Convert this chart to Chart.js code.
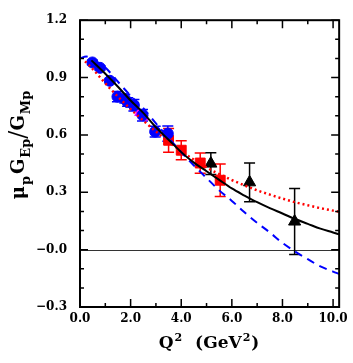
<!DOCTYPE html>
<html><head><meta charset="utf-8">
<script src="https://cdn.jsdelivr.net/npm/chart.js@4/dist/chart.umd.min.js"></script>
<style>html,body{margin:0;padding:0;background:#fff}#wrap{width:353px;height:363px;position:relative}</style>
</head><body><div id="wrap"><canvas id="c" width="353" height="363"></canvas></div>
<script>
// ---- tick labels ----
const xTickValues = [0, 2, 4, 6, 8, 10];
const xTickLabels = ["0.0", "2.0", "4.0", "6.0", "8.0", "10.0"];
const yTickValues = [-0.3, 0, 0.3, 0.6, 0.9, 1.2];
const yTickLabels = ["\u22120.3", "\u22120.0", "0.3", "0.6", "0.9", "1.2"];

// ---- data: blue circles ----
const blueQ2  = [0.49, 0.79, 1.18, 1.48, 1.77, 1.88, 2.13, 2.47, 2.97, 3.47];
const blueR   = [0.979, 0.951, 0.883, 0.800, 0.789, 0.772, 0.755, 0.703, 0.617, 0.607];
const blueErr = [0.012, 0.011, 0.012, 0.027, 0.022, 0.022, 0.030, 0.030, 0.028, 0.040];
// ---- magenta points ----
const magQ2 = [2.30, 2.55];
const magR  = [0.712, 0.688];
// ---- red squares ----
const redQ2  = [3.50, 4.00, 4.75, 5.54];
const redR   = [0.572, 0.520, 0.453, 0.363];
const redErr = [0.062, 0.050, 0.053, 0.085];
// ---- black triangles ----
const triQ2  = [5.17, 6.70, 8.48];
const triR   = [0.450, 0.352, 0.147];
const triErr = [0.057, 0.101, 0.173];

// ---- curves ----
const blackQ2 = [0.45, 1.0, 1.5, 2.0, 2.5, 3.0, 3.5, 4.0, 4.5, 5.0, 5.5, 6.0, 6.5, 7.0, 7.5, 8.0, 8.5, 9.0, 9.5, 10.0, 10.24];
const blackR  = [0.99, 0.92, 0.852, 0.78, 0.715, 0.64, 0.575, 0.51, 0.455, 0.41, 0.365, 0.32, 0.283, 0.248, 0.217, 0.189, 0.16, 0.135, 0.11, 0.09, 0.08];
const dashQ2  = [0, 0.25, 0.5, 1.0, 1.5, 2.0, 2.5, 3.0, 3.5, 4.0, 4.5, 5.0, 5.5, 6.0, 6.5, 7.0, 7.5, 8.0, 8.5, 9.0, 9.5, 10.0, 10.24];
const dashR   = [1.0, 1.01, 0.995, 0.952, 0.878, 0.805, 0.74, 0.66, 0.585, 0.51, 0.44, 0.375, 0.31, 0.255, 0.195, 0.14, 0.09, 0.035, -0.01, -0.05, -0.088, -0.115, -0.127];
const dotQ2   = [0.2, 0.5, 1.0, 1.5, 2.0, 2.5, 3.0, 3.5, 4.0, 4.5, 5.0, 5.5, 6.0, 6.5, 7.0, 7.5, 8.0, 8.5, 9.0, 9.5, 10.0, 10.24];
const dotR    = [0.985, 0.945, 0.87, 0.8, 0.735, 0.675, 0.618, 0.565, 0.515, 0.47, 0.43, 0.395, 0.364, 0.336, 0.31, 0.288, 0.267, 0.248, 0.232, 0.217, 0.204, 0.198];

const BLUE = '#0000ff', RED = '#ff0000', MAG = '#ff00ff', BLK = '#000000';
const FONT = '"DejaVu Serif", "Liberation Serif", serif';

function pts(xs, ys) { return xs.map((x, i) => ({ x: x, y: ys[i] })); }

const errorSets = [
  { q: blueQ2, r: blueR, e: blueErr, color: BLUE },
  { q: redQ2, r: redR, e: redErr, color: RED },
  { q: triQ2, r: triR, e: triErr, color: BLK }
];

const framePlugin = {
  id: 'frame',
  beforeDatasetsDraw(chart) {
    const { ctx, chartArea: a, scales: { x, y } } = chart;
    ctx.save();
    ctx.strokeStyle = '#333';
    ctx.lineWidth = 1;
    const y0 = Math.round(y.getPixelForValue(0)) + 0.5;
    ctx.beginPath(); ctx.moveTo(a.left, y0); ctx.lineTo(a.right, y0); ctx.stroke();
    ctx.lineWidth = 1.5;
    errorSets.forEach(s => {
      ctx.strokeStyle = s.color;
      s.q.forEach((q, i) => {
        const px = x.getPixelForValue(q);
        const pt = y.getPixelForValue(s.r[i] + s.e[i]);
        const pb = y.getPixelForValue(s.r[i] - s.e[i]);
        ctx.beginPath();
        ctx.moveTo(px, pt); ctx.lineTo(px, pb);
        ctx.moveTo(px - 5.5, pt); ctx.lineTo(px + 5.5, pt);
        ctx.moveTo(px - 5.5, pb); ctx.lineTo(px + 5.5, pb);
        ctx.stroke();
      });
    });
    ctx.restore();
  },
  afterDraw(chart) {
    const { ctx, chartArea: a, scales: { x, y } } = chart;
    ctx.save();
    ctx.strokeStyle = '#000';
    ctx.lineWidth = 2;
    ctx.strokeRect(a.left, a.top, a.right - a.left, a.bottom - a.top);
    ctx.lineWidth = 1.5;
    ctx.beginPath();
    for (let i = 0; i <= 10; i++) {
      const px = x.getPixelForValue(i);
      const len = (i % 2 === 0) ? 8 : 4;
      ctx.moveTo(px, a.bottom); ctx.lineTo(px, a.bottom - len);
      ctx.moveTo(px, a.top); ctx.lineTo(px, a.top + len);
    }
    for (let i = -3; i <= 12; i++) {
      const py = y.getPixelForValue(i / 10);
      const len = ((i + 3) % 3 === 0) ? 8 : 4;
      ctx.moveTo(a.left, py); ctx.lineTo(a.left + len, py);
      ctx.moveTo(a.right, py); ctx.lineTo(a.right - len, py);
    }
    ctx.stroke();

    ctx.fillStyle = '#000';
    ctx.textBaseline = 'alphabetic';
    const big = 'bold 17px ' + FONT, small = 'bold 11px ' + FONT;
    const xp = [
      { t: 'Q', f: big, dy: 0 }, { t: '2', f: small, dy: -7 }, { t: '  (GeV', f: big, dy: 0 },
      { t: '2', f: small, dy: -7 }, { t: ')', f: big, dy: 0 }
    ];
    let w = 0;
    xp.forEach(p => { ctx.font = p.f; p.w = ctx.measureText(p.t).width; w += p.w + 1; });
    let cx = (a.left + a.right) / 2 - w / 2;
    xp.forEach(p => { ctx.font = p.f; ctx.fillText(p.t, cx, 348 + p.dy); cx += p.w + 1; });

    // y title (rotated)
    const ybig = 'bold 18px ' + FONT, ysmall = 'bold 13px ' + FONT, yslash = '24px ' + FONT;
    ctx.translate(24, 145);
    ctx.rotate(-Math.PI / 2);
    const yp = [
      { t: '\u03bc', f: ybig, dy: 0, g: 1 }, { t: 'p', f: ysmall, dy: 6, g: 2 }, { t: 'G', f: ybig, dy: 0, g: 1 },
      { t: 'Ep', f: ysmall, dy: 6, g: 0 }, { t: '/', f: yslash, dy: 2, g: 0 }, { t: 'G', f: ybig, dy: 0, g: 1 },
      { t: 'Mp', f: ysmall, dy: 6, g: 0 }
    ];
    w = 0;
    yp.forEach(p => { ctx.font = p.f; p.w = ctx.measureText(p.t).width; w += p.w + p.g; });
    cx = -w / 2;
    yp.forEach(p => { ctx.font = p.f; ctx.fillText(p.t, cx, p.dy); cx += p.w + p.g; });
    ctx.restore();
  }
};

new Chart(document.getElementById('c'), {
  type: 'scatter',
  data: {
    datasets: [
      { label: 'fit', data: pts(blackQ2, blackR), showLine: true, borderColor: BLK, borderWidth: 2, pointRadius: 0, cubicInterpolationMode: 'monotone', order: 0 },
      { label: 'dashed', data: pts(dashQ2, dashR), showLine: true, borderColor: BLUE, borderWidth: 2, borderDash: [8, 6], pointRadius: 0, cubicInterpolationMode: 'monotone', order: 0 },
      { label: 'dotted', data: pts(dotQ2, dotR), showLine: true, borderColor: RED, borderWidth: 2.5, borderDash: [2, 3], pointRadius: 0, cubicInterpolationMode: 'monotone', order: 0 },
      { label: 'blue', data: pts(blueQ2, blueR), pointStyle: 'circle', pointRadius: 5.5, backgroundColor: BLUE, borderColor: BLUE, borderWidth: 1, order: 1 },
      { label: 'magenta', data: pts(magQ2, magR), pointStyle: 'triangle', pointRadius: 4, backgroundColor: MAG, borderColor: MAG, borderWidth: 1, order: 1 },
      { label: 'red', data: pts(redQ2, redR), pointStyle: 'rect', pointRadius: 7, backgroundColor: RED, borderColor: RED, borderWidth: 1, order: 1 },
      { label: 'tri', data: pts(triQ2, triR), pointStyle: 'triangle', pointRadius: 7, backgroundColor: BLK, borderColor: BLK, borderWidth: 1, order: 1 }
    ]
  },
  options: {
    responsive: false,
    devicePixelRatio: 1,
    animation: false,
    events: [],
    layout: { padding: { left: 0, right: 13, top: 14, bottom: 0 } },
    plugins: { legend: { display: false }, tooltip: { enabled: false } },
    scales: {
      x: {
        type: 'linear', min: 0, max: 10.24,
        grid: { display: false, drawTicks: false }, border: { display: false },
        afterBuildTicks: s => { s.ticks = xTickValues.map(v => ({ value: v })); },
        afterFit: s => { s.height = 56; },
        ticks: { color: '#000', padding: 5, maxRotation: 0, autoSkip: false, font: { family: FONT, size: 12, weight: 'bold' },
          callback: (v, i) => xTickLabels[i] }
      },
      y: {
        type: 'linear', min: -0.3, max: 1.2,
        grid: { display: false, drawTicks: false }, border: { display: false },
        afterBuildTicks: s => { s.ticks = yTickValues.map(v => ({ value: v })); },
        afterFit: s => { s.width = 80; },
        ticks: { color: '#000', padding: 13, autoSkip: false, font: { family: FONT, size: 12, weight: 'bold' },
          callback: (v, i) => yTickLabels[i] }
      }
    }
  },
  plugins: [framePlugin]
});
</script>
</body></html>
